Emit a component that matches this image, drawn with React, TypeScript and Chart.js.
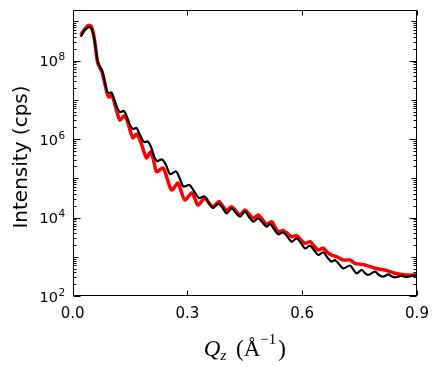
import React, { useEffect, useRef } from "react";
import { Chart, registerables } from "chart.js";

Chart.register(...registerables);

// Momentum transfer Qz (1/Å) and intensity (cps) of the measured data (red)
const qData = [0.0209,0.0295,0.0400,0.0478,0.0544,0.0596,0.0648,0.0714,0.0766,0.0831,0.0896,0.0949,0.1014,0.1079,0.1158,0.1236,0.1341,0.1419,0.1498,0.1576,0.1668,0.1759,0.1864,0.1934,0.1994,0.2047,0.2125,0.2195,0.2360,0.2465,0.2588,0.2752,0.2831,0.2935,0.3110,0.3197,0.3275,0.3458,0.3562,0.3667,0.3824,0.3902,0.4025,0.4156,0.4268,0.4373,0.4503,0.4608,0.4720,0.4851,0.4948,0.5071,0.5201,0.5287,0.5374,0.5497,0.5601,0.5724,0.5855,0.5967,0.6072,0.6202,0.6307,0.6419,0.6550,0.6647,0.6769,0.6900,0.7073,0.7248,0.7378,0.7640,0.7901,0.8163,0.8424,0.8685,0.8991];
const iData = [4.47e8,5.98e8,7.80e8,7.57e8,4.73e8,2.21e8,9.16e7,6.44e7,5.09e7,2.83e7,1.49e7,1.17e7,1.32e7,9.29e6,4.87e6,3.05e6,3.85e6,3.05e6,1.69e6,1.06e6,1.34e6,9.43e5,4.67e5,3.28e5,4.15e5,4.67e5,2.59e5,1.47e5,1.82e5,1.01e5,5.02e4,7.57e4,4.73e4,2.79e4,4.21e4,2.96e4,2.08e4,3.14e4,2.34e4,1.88e4,2.56e4,2.08e4,1.55e4,1.88e4,1.46e4,1.16e4,1.55e4,1.23e4,9.55e3,1.16e4,9.16e3,6.71e3,7.82e3,5.73e3,4.35e3,4.67e3,4.03e3,3.24e3,3.44e3,2.67e3,2.20e3,2.42e3,1.88e3,1.49e3,1.64e3,1.32e3,1.11e3,1.00e3,826,826,681,616,508,460,379,343,343];

// Fit curve (black)
const qFit = [0.0209,0.0295,0.0400,0.0478,0.0544,0.0596,0.0648,0.0714,0.0766,0.0831,0.0896,0.0949,0.1014,0.1079,0.1158,0.1236,0.1341,0.1419,0.1498,0.1576,0.1668,0.1759,0.1864,0.1968,0.2047,0.2125,0.2203,0.2334,0.2439,0.2543,0.2700,0.2804,0.2896,0.3053,0.3170,0.3301,0.3445,0.3562,0.3667,0.3811,0.3902,0.4025,0.4156,0.4268,0.4373,0.4503,0.4608,0.4720,0.4851,0.4948,0.5071,0.5157,0.5261,0.5374,0.5497,0.5601,0.5724,0.5855,0.5967,0.6072,0.6202,0.6307,0.6419,0.6550,0.6647,0.6769,0.6856,0.6960,0.7073,0.7248,0.7326,0.7423,0.7554,0.7640,0.7726,0.7901,0.8006,0.8118,0.8249,0.8346,0.8424,0.8599,0.8711,0.8860,0.8991];
const iFit = [4.04e8,5.65e8,6.93e8,6.73e8,4.47e8,2.21e8,1.03e8,6.83e7,5.73e7,3.19e7,1.67e7,1.49e7,1.53e7,1.05e7,6.53e6,4.87e6,5.17e6,3.64e6,2.27e6,1.80e6,1.91e6,1.26e6,8.39e5,8.63e5,6.25e5,3.69e5,2.75e5,3.01e5,2.18e5,1.28e5,1.49e5,9.57e4,6.17e4,6.73e4,4.73e4,3.14e4,3.43e4,2.34e4,1.75e4,2.27e4,1.85e4,1.28e4,1.71e4,1.30e4,1.05e4,1.41e4,1.03e4,7.82e3,9.55e3,7.68e3,5.83e3,6.83e3,5.09e3,3.73e3,4.20e3,3.38e3,2.42e3,2.95e3,2.24e3,1.64e3,1.91e3,1.49e3,1.11e3,1.30e3,986,748,826,653,508,598,488,379,460,385,343,416,343,310,357,314,299,323,305,323,337];

const xTicks = [0, 0.3, 0.6, 0.9];
const xTickLabels = ["0.0", "0.3", "0.6", "0.9"];
const yTickExponents = [2, 4, 6, 8];
const yMin = 1e2;
const yMax = 1.94e9;

const SANS = "'DejaVu Sans', 'Liberation Sans', sans-serif";
const SERIF = "'Liberation Serif', 'DejaVu Serif', serif";

const framePlugin = {
  id: "mplFrame",
  afterDraw(chart: any) {
    const ctx = chart.ctx as CanvasRenderingContext2D;
    const { left, right, top, bottom } = chart.chartArea;
    const xs = chart.scales.x;
    const ys = chart.scales.y;
    const L = Math.round(left) + 0.5;
    const R = Math.round(right) - 0.5;
    const T = Math.round(top) + 0.5;
    const B = Math.round(bottom) - 0.5;
    ctx.save();
    ctx.strokeStyle = "#000";
    ctx.lineWidth = 1;
    ctx.strokeRect(L, T, R - L, B - T);

    // x ticks (inward, bottom and top)
    ctx.beginPath();
    for (const v of xTicks) {
      const px = Math.round(xs.getPixelForValue(v)) + 0.5;
      ctx.moveTo(px, B);
      ctx.lineTo(px, B - 5);
      ctx.moveTo(px, T);
      ctx.lineTo(px, T + 5);
    }
    // y ticks: major at each decade, minor at 2..9
    for (let e = 2; e <= 9; e++) {
      for (let k = 1; k <= 9; k++) {
        const v = k * Math.pow(10, e);
        if (v < yMin || v > yMax) continue;
        const py = Math.round(ys.getPixelForValue(v)) + 0.5;
        const len = k === 1 ? (e % 2 === 0 ? 7 : 5) : 3;
        ctx.moveTo(L, py);
        ctx.lineTo(L + len, py);
        ctx.moveTo(R, py);
        ctx.lineTo(R - len, py);
      }
    }
    ctx.stroke();

    // x tick labels
    ctx.fillStyle = "#000";
    ctx.font = `15px ${SANS}`;
    ctx.textAlign = "center";
    ctx.textBaseline = "alphabetic";
    xTicks.forEach((v, i) => {
      ctx.fillText(xTickLabels[i], xs.getPixelForValue(v), bottom + 21.5);
    });

    // y tick labels 10^n
    yTickExponents.forEach((e) => {
      const py = ys.getPixelForValue(Math.pow(10, e));
      const rightEdge = left - 7.5;
      ctx.font = `10.5px ${SANS}`;
      ctx.textAlign = "right";
      const sup = String(e);
      const supW = ctx.measureText(sup).width;
      ctx.fillText(sup, rightEdge, py - 0.5);
      ctx.font = `14.5px ${SANS}`;
      ctx.fillText("10", rightEdge - supW - 0.5, py + 5.5);
    });

    // y axis title
    ctx.save();
    ctx.translate(27, (top + bottom) / 2 + 4);
    ctx.rotate(-Math.PI / 2);
    ctx.font = `20px ${SANS}`;
    ctx.textAlign = "center";
    ctx.textBaseline = "alphabetic";
    ctx.fillText("Intensity (cps)", 0, 0);
    ctx.restore();

    // x axis title: Q_z (Å^-1)
    const parts: { t: string; f: string; dy: number; gap?: number }[] = [
      { t: "Q", f: `italic 23px ${SERIF}`, dy: 0 },
      { t: "z", f: `italic 15px ${SERIF}`, dy: 3.5 },
      { t: " (Å", f: `23px ${SERIF}`, dy: 0, gap: 4 },
      { t: "−1", f: `15px ${SERIF}`, dy: -12 },
      { t: ")", f: `23px ${SERIF}`, dy: 0, gap: 2 },
    ];
    ctx.textAlign = "left";
    let total = 0;
    const widths = parts.map((p) => {
      ctx.font = p.f;
      const w = ctx.measureText(p.t).width + (p.gap || 0);
      total += w;
      return w;
    });
    let cx = (left + right) / 2 - total / 2;
    const base = 356;
    parts.forEach((p, i) => {
      ctx.font = p.f;
      ctx.fillText(p.t, cx + (p.gap || 0), base + p.dy);
      cx += widths[i];
    });
    ctx.restore();
  },
};

export default function App() {
  const ref = useRef<HTMLCanvasElement | null>(null);
  useEffect(() => {
    if (!ref.current) return;
    const chart = new Chart(ref.current, {
      type: "line",
      data: {
        datasets: [
          {
            label: "fit",
            data: qFit.map((q, i) => ({ x: q, y: iFit[i] })),
            borderColor: "#000000",
            borderWidth: 2.2,
            pointRadius: 0,
            tension: 0.3,
            fill: false,
            order: 0,
          },
          {
            label: "data",
            data: qData.map((q, i) => ({ x: q, y: iData[i] })),
            borderColor: "#ff0000",
            borderWidth: 3.5,
            pointRadius: 0,
            tension: 0.3,
            fill: false,
            order: 1,
          },
        ],
      },
      options: {
        animation: false,
        responsive: false,
        devicePixelRatio: 1,
        layout: { padding: { top: 10, right: 19, left: 0, bottom: 0 } },
        plugins: { legend: { display: false }, tooltip: { enabled: false } },
        scales: {
          x: {
            type: "linear",
            min: 0,
            max: 0.9,
            grid: { display: false },
            border: { display: false },
            ticks: { display: false },
            afterFit: (s: any) => {
              s.height = 71;
            },
          },
          y: {
            type: "logarithmic",
            min: yMin,
            max: yMax,
            grid: { display: false },
            border: { display: false },
            ticks: { display: false },
            afterFit: (s: any) => {
              s.width = 72.7;
            },
          },
        },
      },
      plugins: [framePlugin],
    });
    return () => chart.destroy();
  }, []);
  return (
    <div style={{ position: "fixed", left: 0, top: 0, width: 436, height: 367, background: "#fff" }}>
      <canvas ref={ref} width={436} height={367} style={{ width: 436, height: 367, display: "block" }} />
    </div>
  );
}
